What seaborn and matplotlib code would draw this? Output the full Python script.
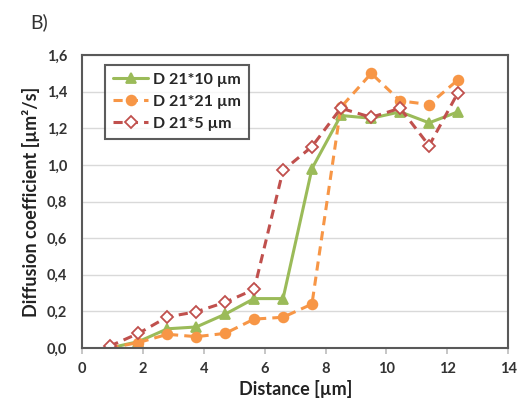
import numpy as np
import pandas as pd
import matplotlib
matplotlib.use("Agg")
import matplotlib.pyplot as plt
import seaborn as sns

# Values
distance = [0.9, 1.85, 2.8, 3.75, 4.7, 5.65, 6.6, 7.55, 8.5, 9.5, 10.45, 11.4, 12.35]
d_21x10 = [0.0, 0.035, 0.105, 0.115, 0.185, 0.27, 0.27, 0.98, 1.27, 1.255, 1.29, 1.23, 1.29]
d_21x21 = [0.0, 0.03, 0.075, 0.062, 0.08, 0.158, 0.168, 0.24, 1.315, 1.50, 1.35, 1.33, 1.465]
d_21x5 = [0.01, 0.08, 0.17, 0.198, 0.25, 0.32, 0.97, 1.10, 1.31, 1.26, 1.31, 1.105, 1.395]

series_names = ["D 21*10 µm", "D 21*21 µm", "D 21*5 µm"]
x_ticks = [0, 2, 4, 6, 8, 10, 12, 14]
y_ticks = [0.0, 0.2, 0.4, 0.6, 0.8, 1.0, 1.2, 1.4, 1.6]

df = pd.DataFrame({
    "Distance": distance * 3,
    "D": d_21x10 + d_21x21 + d_21x5,
    "series": [series_names[0]] * 13 + [series_names[1]] * 13 + [series_names[2]] * 13,
})

sns.set_theme(style="white")
plt.rcParams['font.family'] = ['Lato', 'DejaVu Sans']

colors = {series_names[0]: "#9BBB59", series_names[1]: "#F79646", series_names[2]: "#C0504D"}
styles = {
    series_names[0]: dict(ls="-", marker="^", mfc="#9BBB59", ms=7),
    series_names[1]: dict(ls=(0, (3, 2)), marker="o", mfc="#F79646", ms=7),
    series_names[2]: dict(ls=(0, (3, 2)), marker="D", mfc="white", ms=6),
}

fig = plt.figure(figsize=(5.17, 4.08), dpi=100)
ax = fig.add_axes([0.159, 0.147, 0.824, 0.718])

for name in series_names:
    st = styles[name]
    sub = df[df["series"] == name]
    sns.lineplot(data=sub, x="Distance", y="D", ax=ax, color=colors[name],
                 linestyle=st["ls"], linewidth=2.2, marker=st["marker"],
                 markersize=st["ms"], markerfacecolor=st["mfc"],
                 markeredgecolor=colors[name], markeredgewidth=1.3,
                 label=name, estimator=None, sort=False)

ax.set_xlim(0, 14)
ax.set_ylim(0, 1.6)
ax.set_xticks(x_ticks)
ax.set_yticks(y_ticks)
ax.set_xticklabels([str(t) for t in x_ticks], fontsize=10.5, fontweight="bold", color="#333333")
ax.set_yticklabels([f"{t:.1f}".replace(".", ",") for t in y_ticks], fontsize=10.5,
                   fontweight="bold", color="#333333")
ax.yaxis.grid(True, color="#d9d9d9", linewidth=1)
ax.xaxis.grid(False)
for side in ["left", "bottom", "top", "right"]:
    ax.spines[side].set_visible(True)
    ax.spines[side].set_color("#595959")
    ax.spines[side].set_linewidth(1.5)
ax.tick_params(axis="x", which="both", bottom=True, length=4, color="#bfbfbf", pad=6)
ax.tick_params(axis="y", which="both", left=False, pad=5)

ax.set_xlabel("Distance [µm]", fontsize=13, fontweight="bold", color="#222222", labelpad=3)
ax.set_ylabel("Diffusion coefficient [µm²/s]", fontsize=13, fontweight="bold",
              color="#222222", labelpad=5)

leg = ax.legend(loc="upper left", bbox_to_anchor=(0.035, 0.995), frameon=True, fancybox=False,
                handlelength=2.2, handletextpad=0.3, borderpad=0.5, labelspacing=0.5,
                prop={"weight": "bold", "size": 11.5, "family": ["Lato", "DejaVu Sans"]})
leg.get_frame().set_edgecolor("#333333")
leg.get_frame().set_linewidth(1.5)

fig.text(0.058, 0.93, "B)", fontsize=14, color="#333333")

fig.savefig("out.png", dpi=100, facecolor="white")
